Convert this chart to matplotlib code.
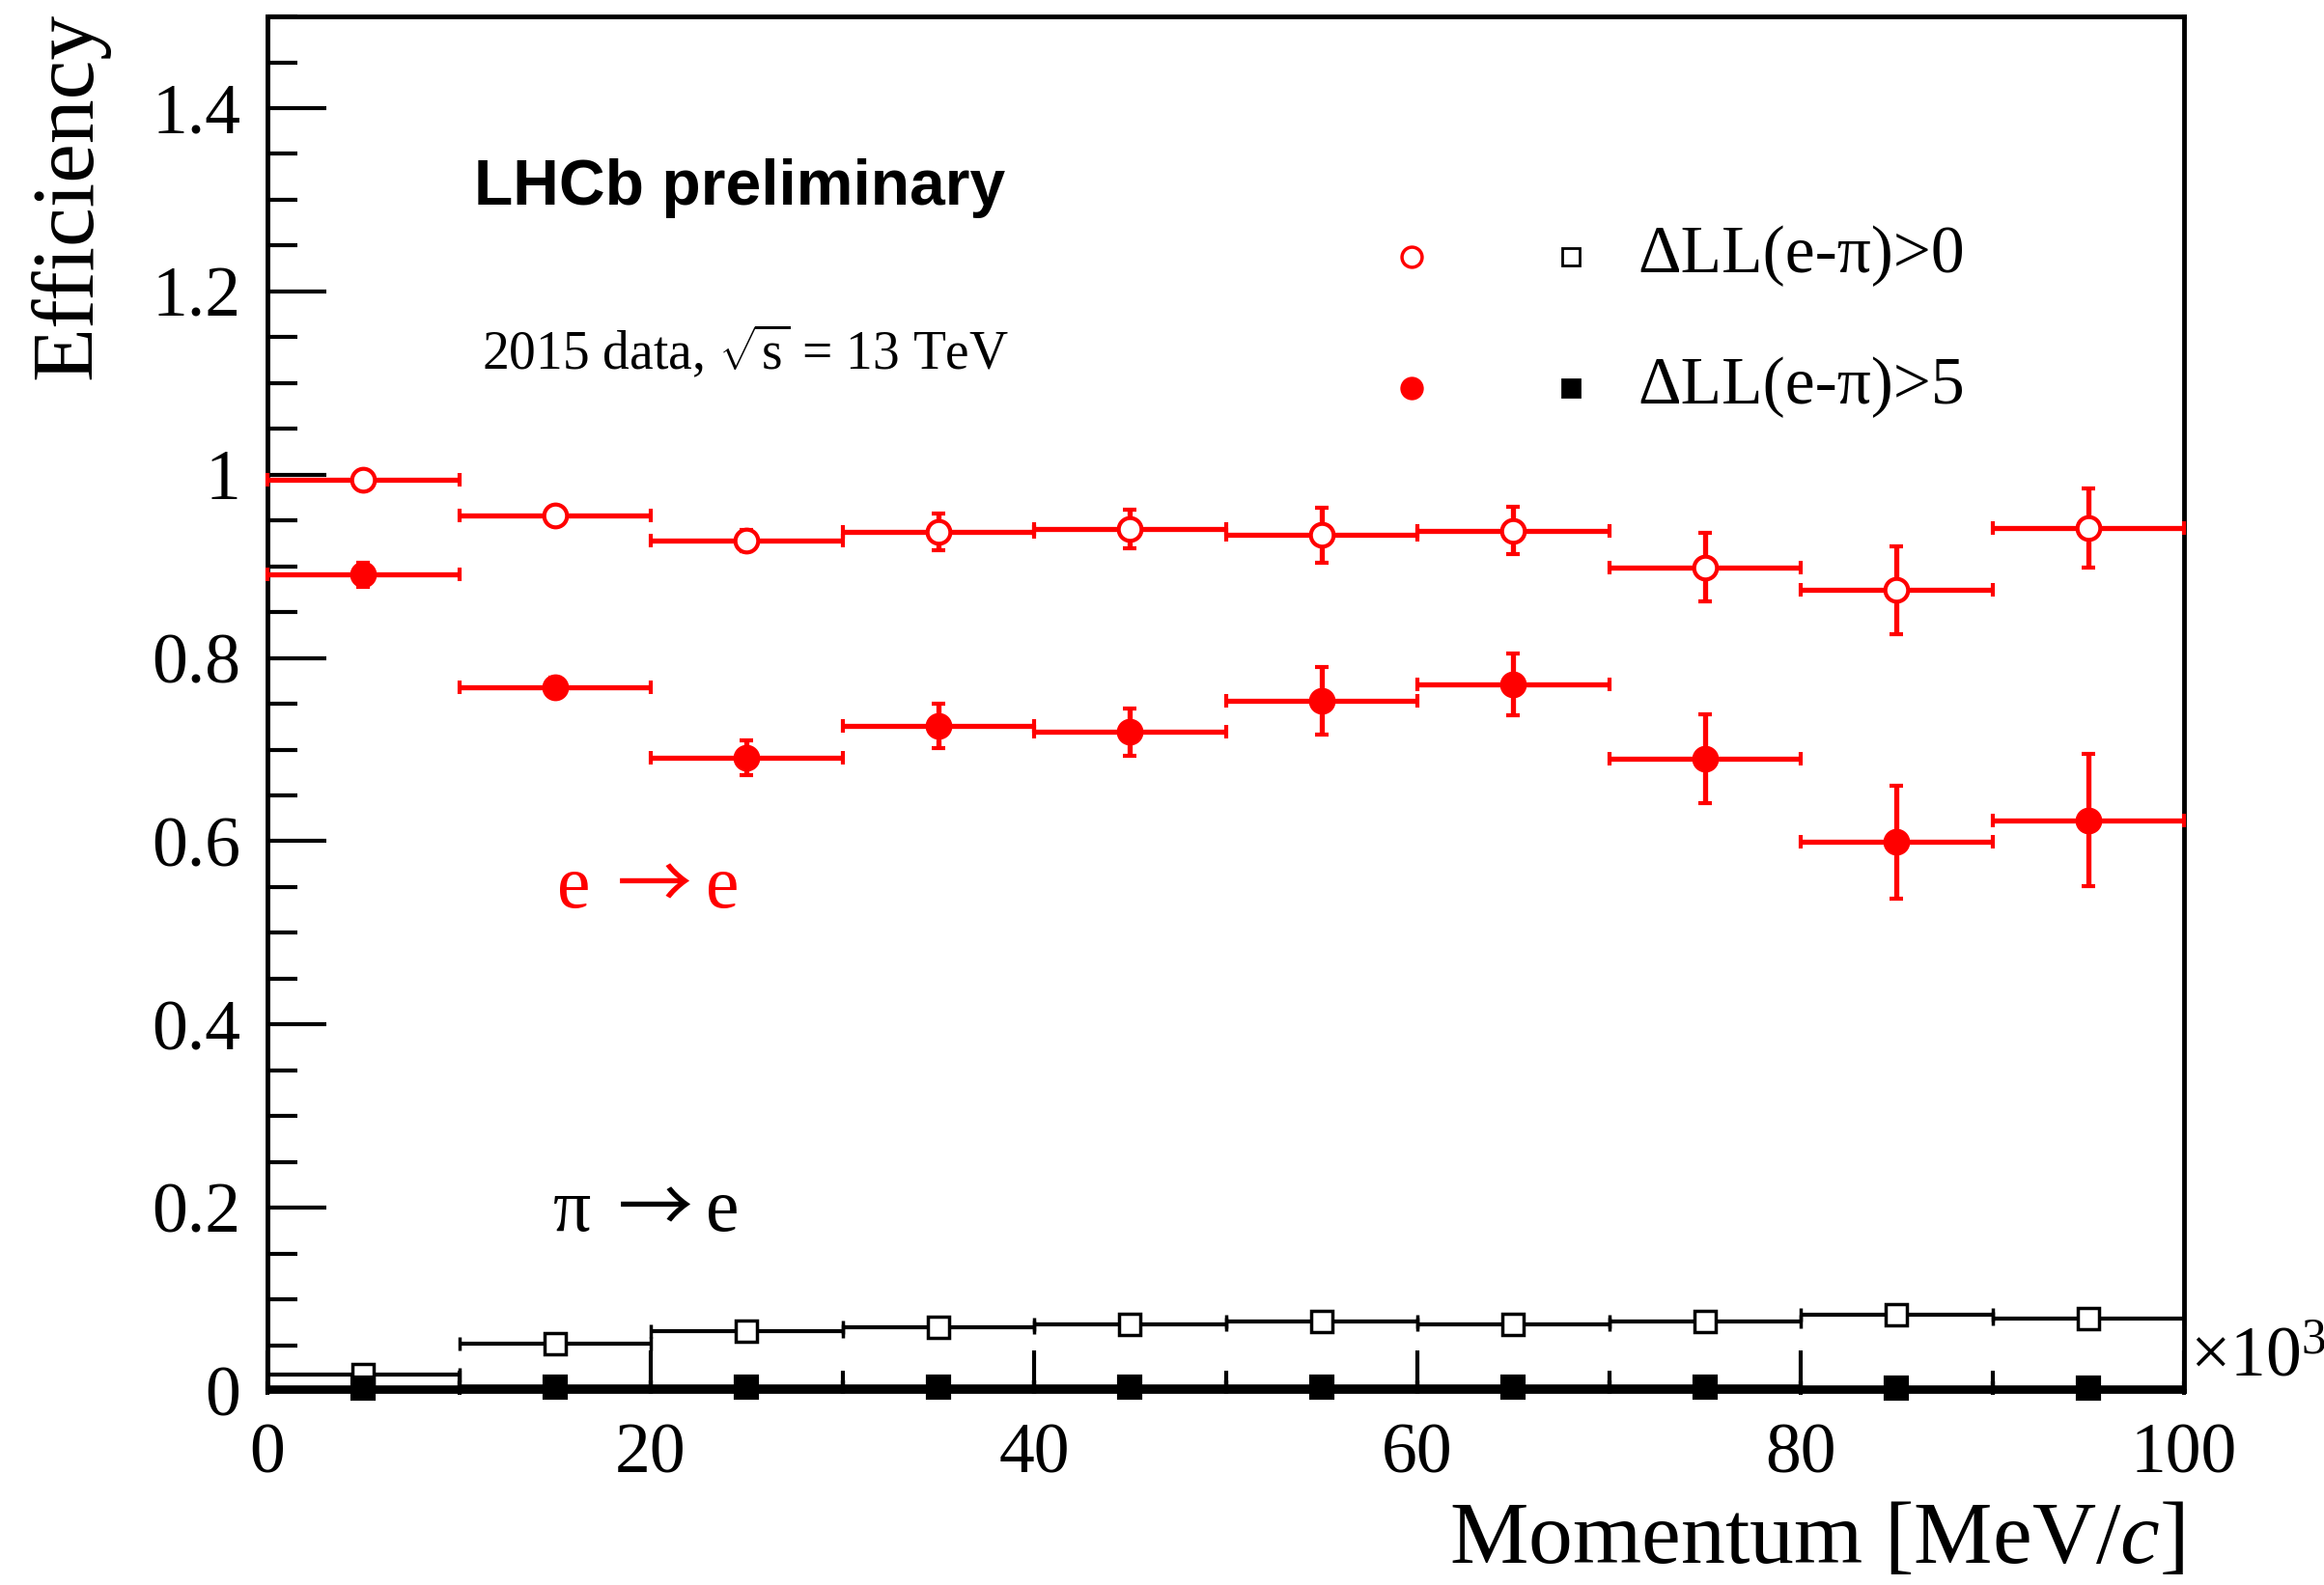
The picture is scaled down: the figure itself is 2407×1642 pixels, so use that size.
import matplotlib
matplotlib.use("Agg")
import matplotlib.pyplot as plt
from matplotlib.ticker import MultipleLocator, FuncFormatter
from matplotlib.offsetbox import TextArea, HPacker, AnnotationBbox

# Momentum bins (in units of 10^3 MeV/c): centres and half-widths
bin_centres = [5, 15, 25, 35, 45, 55, 65, 75, 85, 95]
bin_half_width = 5

# e -> e efficiency, DLL(e-pi) > 0
ee_dll0 = [0.994, 0.955, 0.928, 0.938, 0.941, 0.934, 0.939, 0.899, 0.874, 0.942]
ee_dll0_err = [0.010, 0.008, 0.012, 0.020, 0.021, 0.030, 0.026, 0.037, 0.048, 0.043]

# e -> e efficiency, DLL(e-pi) > 5
ee_dll5 = [0.891, 0.768, 0.691, 0.726, 0.719, 0.753, 0.771, 0.690, 0.599, 0.623]
ee_dll5_err = [0.013, 0.010, 0.019, 0.024, 0.026, 0.037, 0.034, 0.048, 0.062, 0.072]

# pi -> e misidentification, DLL(e-pi) > 0
pie_dll0 = [0.018, 0.052, 0.065, 0.070, 0.073, 0.076, 0.073, 0.076, 0.083, 0.079]
pie_dll0_err = [0.003, 0.003, 0.003, 0.003, 0.003, 0.003, 0.003, 0.003, 0.004, 0.004]

# pi -> e misidentification, DLL(e-pi) > 5
pie_dll5 = [0.003, 0.004, 0.004, 0.004, 0.004, 0.004, 0.004, 0.004, 0.003, 0.003]
pie_dll5_err = [0.002, 0.002, 0.002, 0.002, 0.002, 0.002, 0.002, 0.002, 0.002, 0.002]

legend_labels = ["\u0394LL(e-\u03c0)>0", "\u0394LL(e-\u03c0)>5"]

plt.rcParams["font.family"] = ["Liberation Serif", "DejaVu Serif"]
plt.rcParams["mathtext.fontset"] = "custom"
plt.rcParams["mathtext.rm"] = "Liberation Serif"
plt.rcParams["mathtext.it"] = "Liberation Serif:italic"
plt.rcParams["mathtext.bf"] = "Liberation Serif:bold"

RED = "#ff0000"

fig = plt.figure(figsize=(24.07, 16.42), dpi=100)
ax = fig.add_axes([0.1151, 0.1224, 0.8247, 0.8672])

common = dict(xerr=bin_half_width, capsize=5, capthick=3.8, elinewidth=3.8,
              markersize=17, markeredgewidth=3, clip_on=False, linestyle="none")

ax.errorbar(bin_centres, ee_dll0, yerr=ee_dll0_err, fmt="o", color=RED,
            markerfacecolor="white", markeredgecolor=RED, zorder=4, **common)
ax.errorbar(bin_centres, ee_dll5, yerr=ee_dll5_err, fmt="o", color=RED,
            markerfacecolor=RED, markeredgecolor=RED, zorder=4, **common)
ax.errorbar(bin_centres, pie_dll0, yerr=pie_dll0_err, fmt="s", color="black",
            markerfacecolor="white", markeredgecolor="black", zorder=4,
            **{**common, "markersize": 16, "markeredgewidth": 2.5,
               "elinewidth": 3, "capthick": 3})
ax.errorbar(bin_centres, pie_dll5, yerr=pie_dll5_err, fmt="s", color="black",
            markerfacecolor="black", markeredgecolor="black", zorder=4,
            **{**common, "markersize": 16, "elinewidth": 4})

ax.set_xlim(0, 100)
ax.set_ylim(0, 1.5)

ax.xaxis.set_major_locator(MultipleLocator(20))
ax.xaxis.set_minor_locator(MultipleLocator(10))
ax.yaxis.set_major_locator(MultipleLocator(0.2))
ax.yaxis.set_minor_locator(MultipleLocator(0.05))
ax.yaxis.set_major_formatter(FuncFormatter(lambda v, p: f"{v:g}"))
ax.xaxis.set_major_formatter(FuncFormatter(lambda v, p: f"{v:g}"))

ax.tick_params(axis="y", which="major", direction="in", length=44, width=3,
               labelsize=53, pad=20, right=False)
ax.tick_params(axis="y", which="minor", direction="in", length=22, width=3,
               right=False)
ax.tick_params(axis="x", which="major", direction="in", length=30, width=3,
               labelsize=53, pad=24, top=False)
ax.tick_params(axis="x", which="minor", direction="in", length=15, width=3,
               top=False)
for s in ax.spines.values():
    s.set_linewidth(3.5)

# Axis titles placed at the axis ends
fig.text(72 / 2407, 1 - 13 / 1642, "Efficiency", rotation=90,
         ha="center", va="top", fontsize=66)
fig.text(2262 / 2407, 1 - 1619 / 1642, r"Momentum [MeV/$c$]",
         ha="right", va="baseline", fontsize=66)
ax.text(1.003, 0.0, "\u00d710$^{3}$", transform=ax.transAxes,
        ha="left", va="bottom", fontsize=53)

ax.text(10.8, 1.313, "LHCb preliminary", ha="left", va="center",
        fontsize=47.5, fontweight="bold", family="Liberation Sans")
ax.text(11.2, 1.134, r"2015 data, $\sqrt{\mathrm{s}}$ = 13 TeV", ha="left",
        va="center", fontsize=40)


def process_label(x, y, start, end, color):
    """Draw 'start -> end' with a full-width thin arrow between the names."""
    serif = dict(color=color, fontsize=56, family="Liberation Serif")
    arrow = dict(color=color, fontsize=56, family="Noto Sans CJK SC")
    tail = HPacker(children=[TextArea("\u2192", textprops=arrow),
                             TextArea(end, textprops=serif)],
                   align="center", pad=0, sep=10)
    box = HPacker(children=[TextArea(start, textprops=serif), tail],
                  align="center", pad=0, sep=20)
    ab = AnnotationBbox(box, (x, y), xycoords="data", box_alignment=(0, 0.5),
                        frameon=False, pad=0)
    ax.add_artist(ab)


process_label(15.1, 0.548, "e", "e", RED)
process_label(14.9, 0.195, "\u03c0", "e", "black")

# Legend: circle (e->e) and square (pi->e) keys per selection
legend_rows_y = [1.238, 1.095]
for row_y, label, filled in zip(legend_rows_y, legend_labels, [False, True]):
    ax.plot([59.7], [row_y], marker="o", markersize=15, markeredgewidth=2.5,
            color=RED, markerfacecolor=RED if filled else "white",
            linestyle="none")
    ax.plot([68.0], [row_y], marker="s", markersize=13, markeredgewidth=2,
            color="black", markerfacecolor="black" if filled else "white",
            linestyle="none")
    ax.text(71.5, row_y, label, ha="left", va="center", fontsize=50)

fig.savefig("out.png", dpi=100)
